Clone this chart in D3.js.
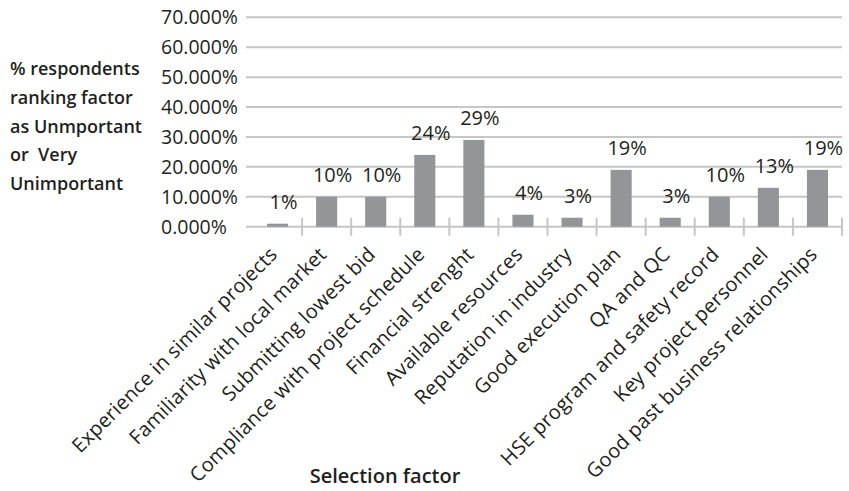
<!DOCTYPE html>
<html>
<head>
<meta charset="utf-8">
<script src="https://cdn.jsdelivr.net/npm/d3@7"></script>
<style>
  html, body { margin: 0; padding: 0; background: #ffffff; }
  svg { display: block; font-family: "Open Sans", "Noto Sans", sans-serif; }
</style>
</head>
<body>
<svg id="chart" width="849" height="491"></svg>
<script>
// Selection factors and share of respondents ranking each as unimportant
const factors = [
  "Experience in similar projects",
  "Familiarity with local market",
  "Submitting lowest bid",
  "Compliance with project schedule",
  "Financial strenght",
  "Available resources",
  "Reputation in industry",
  "Good execution plan",
  "QA and QC",
  "HSE program and safety record",
  "Key project personnel",
  "Good past business relationships"
];
const shares = [0.01, 0.10, 0.10, 0.24, 0.29, 0.04, 0.03, 0.19, 0.03, 0.10, 0.13, 0.19];
const yTicks = [0, 0.1, 0.2, 0.3, 0.4, 0.5, 0.6, 0.7];
const yTitleLines = ["% respondents", "ranking factor", "as Unmportant", "or  Very", "Unimportant"];
const xTitle = "Selection factor";

const svg = d3.select("#chart");
const textColor = "#231f20";
const gridColor = "#c6c6c6";
const barColor = "#939598";

const plot = { left: 253, right: 842, top: 17.3, bottom: 226.7 };

const x = d3.scaleBand()
  .domain(factors)
  .range([plot.left, plot.right])
  .paddingInner(0.57)
  .paddingOuter(0.285);

const y = d3.scaleLinear().domain([0, 0.7]).range([plot.bottom, plot.top]);

const pct3 = d3.format(".3%");
const pct0 = d3.format(".0%");

// horizontal gridlines, with outward tick stubs on the left
svg.append("g")
  .selectAll("line")
  .data(yTicks)
  .join("line")
  .attr("x1", plot.left - 7)
  .attr("x2", plot.right)
  .attr("y1", d => y(d))
  .attr("y2", d => y(d))
  .attr("stroke", gridColor)
  .attr("stroke-width", 2);

// y tick labels, left aligned
svg.append("g")
  .selectAll("text")
  .data(yTicks)
  .join("text")
  .attr("x", 161)
  .attr("y", d => y(d))
  .attr("dy", "0.35em")
  .attr("fill", textColor)
  .attr("font-size", 19.5)
  .text(d => pct3(d));

// category boundary ticks crossing the baseline
const bounds = factors.map(f => x(f) + x.bandwidth() / 2 + x.step() / 2);
svg.append("g")
  .selectAll("line")
  .data(bounds)
  .join("line")
  .attr("x1", d => d)
  .attr("x2", d => d)
  .attr("y1", plot.bottom - 9)
  .attr("y2", plot.bottom + 9)
  .attr("stroke", gridColor)
  .attr("stroke-width", 2);

// bars
svg.append("g")
  .selectAll("rect")
  .data(shares)
  .join("rect")
  .attr("x", (d, i) => x(factors[i]))
  .attr("width", x.bandwidth())
  .attr("y", d => y(d))
  .attr("height", d => y(0) - y(d))
  .attr("fill", barColor);

// value labels
svg.append("g")
  .selectAll("text")
  .data(shares)
  .join("text")
  .attr("x", (d, i) => x(factors[i]) + x.bandwidth() / 2 + 6)
  .attr("y", d => y(d) - 15)
  .attr("text-anchor", "middle")
  .attr("fill", textColor)
  .attr("font-size", 20)
  .text(d => pct0(d));

// rotated category labels
svg.append("g")
  .selectAll("text")
  .data(factors)
  .join("text")
  .attr("transform", d => `translate(${x(d) + x.bandwidth() / 2 + 1},${plot.bottom + 29}) rotate(-45)`)
  .attr("text-anchor", "end")
  .attr("fill", textColor)
  .attr("font-size", 20)
  .attr("letter-spacing", 0.25)
  .text(d => d);

// y axis title
svg.append("text")
  .attr("fill", textColor)
  .attr("font-size", 18)
  .attr("font-weight", 600)
  .selectAll("tspan")
  .data(yTitleLines)
  .join("tspan")
  .attr("x", 10)
  .attr("y", (d, i) => 75 + i * 28.8)
  .attr("xml:space", "preserve")
  .style("white-space", "pre")
  .text(d => d);

// x axis title
svg.append("text")
  .attr("x", 385)
  .attr("y", 483)
  .attr("text-anchor", "middle")
  .attr("fill", textColor)
  .attr("font-size", 20)
  .attr("font-weight", 600)
  .text(xTitle);
</script>
</body>
</html>
